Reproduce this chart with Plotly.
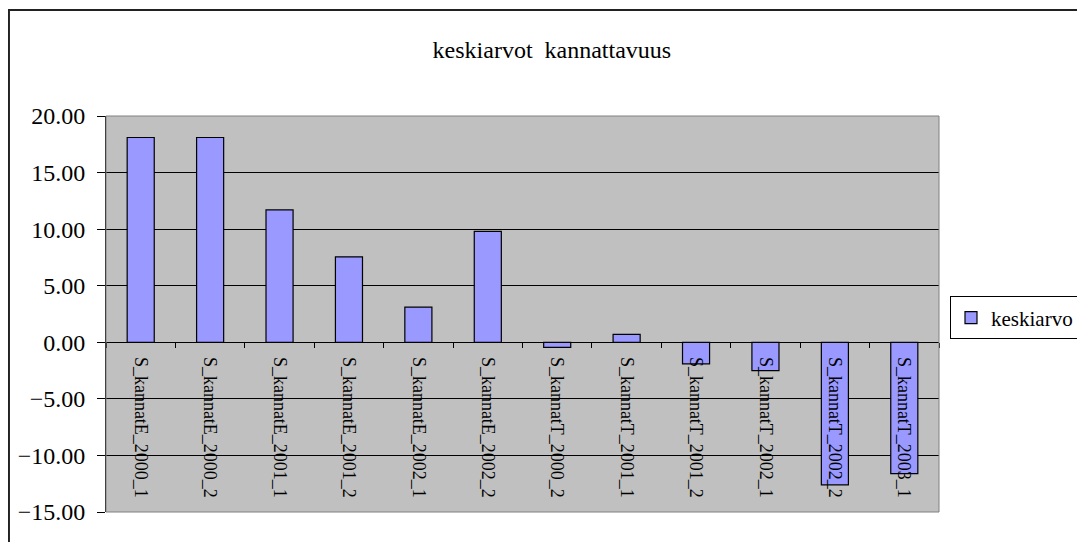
import plotly.graph_objects as go

categories = [
    "S_kannatE_2000_1", "S_kannatE_2000_2", "S_kannatE_2001_1", "S_kannatE_2001_2",
    "S_kannatE_2002_1", "S_kannatE_2002_2", "S_kannatT_2000_2", "S_kannatT_2001_1",
    "S_kannatT_2001_2", "S_kannatT_2002_1", "S_kannatT_2002_2", "S_kannatT_2003_1",
]
keskiarvo = [18.1, 18.1, 11.7, 7.55, 3.1, 9.8, -0.45, 0.7, -1.9, -2.5, -12.6, -11.6]

y_min, y_max = -15, 20
serif = "Liberation Serif, Times New Roman, serif"

fig = go.Figure()
fig.add_trace(
    go.Bar(
        x=categories,
        y=keskiarvo,
        name="keskiarvo",
        marker=dict(color="#9999FF", line=dict(color="black", width=1.2)),
    )
)

# x axis sits on the zero line, as in the Excel original
zero_pos = (0 - y_min) / (y_max - y_min)

fig.update_layout(
    width=1077,
    height=534,
    margin=dict(l=98, r=146, t=108, b=30, autoexpand=False),
    paper_bgcolor="white",
    plot_bgcolor="#C0C0C0",
    bargap=0.61,
    font=dict(family=serif, color="black"),
    title=dict(
        text="keskiarvot&nbsp;&nbsp;kannattavuus",
        x=0.505, xanchor="center",
        y=0.923, yanchor="middle",
        font=dict(family=serif, size=24, color="black"),
    ),
    showlegend=True,
    legend=dict(
        x=1.0132, xanchor="left",
        y=0.49, yanchor="middle",
        bgcolor="white",
        bordercolor="black",
        borderwidth=1,
        font=dict(family=serif, size=21),
        itemwidth=30,
    ),
)

fig.update_yaxes(
    range=[y_min, y_max],
    dtick=5,
    tickformat=".2f",
    showgrid=True,
    gridcolor="black",
    gridwidth=1,
    zeroline=False,
    showline=True,
    linecolor="black",
    linewidth=1,
    ticks="outside",
    ticklen=8,
    tickcolor="black",
    ticklabelstandoff=7,
    tickfont=dict(family=serif, size=24),
)

fig.update_xaxes(
    anchor="free",
    position=zero_pos,
    showgrid=False,
    zeroline=False,
    showline=True,
    linecolor="black",
    linewidth=1,
    ticks="outside",
    ticklen=5,
    tickcolor="black",
    tickson="boundaries",
    tickangle=90,
    ticklabelstandoff=10,
    tickfont=dict(family=serif, size=18),
    automargin=False,
)

# plot area border and outer chart border
fig.add_shape(type="rect", xref="paper", yref="paper", x0=0, x1=1, y0=0, y1=1,
              line=dict(color="#808080", width=1), layer="above")
fig.add_shape(type="rect", xref="paper", yref="paper", x0=-0.1165, x1=1.3, y0=-0.2, y1=1.2677,
              line=dict(color="#222222", width=2))

fig.write_html("out.html")
